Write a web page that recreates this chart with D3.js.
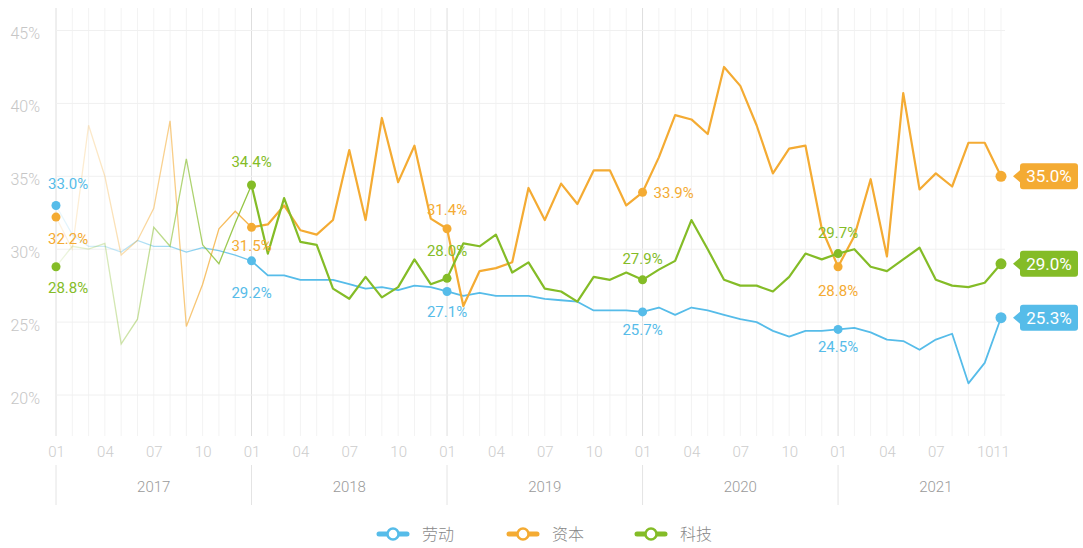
<!DOCTYPE html>
<html>
<head>
<meta charset="utf-8">
<script src="https://cdn.jsdelivr.net/npm/d3@7"></script>
<style>
  body { margin: 0; background: #fff; }
  text { font-family: Roboto, "Noto Sans CJK SC", sans-serif; }
</style>
</head>
<body>
<script>
// Categories
var years = ["2017", "2018", "2019", "2020", "2021"];
var lastYearMonths = 11;
var yTicks = [20, 25, 30, 35, 40, 45];
var seriesNames = ["劳动", "资本", "科技"];

// Monthly share values (%), 2017-01 .. 2021-11
var labor = [
  33.0, 31.0, 30.2, 30.2, 29.8, 30.6, 30.2, 30.2, 29.8, 30.1, 29.9, 29.6,
  29.2, 28.2, 28.2, 27.9, 27.9, 27.9, 27.6, 27.3, 27.4, 27.2, 27.5, 27.4,
  27.1, 26.8, 27.0, 26.8, 26.8, 26.8, 26.6, 26.5, 26.4, 25.8, 25.8, 25.8,
  25.7, 26.0, 25.5, 26.0, 25.8, 25.5, 25.2, 25.0, 24.4, 24.0, 24.4, 24.4,
  24.5, 24.6, 24.3, 23.8, 23.7, 23.1, 23.8, 24.2, 20.8, 22.2, 25.3
];
var capital = [
  32.2, 30.0, 38.5, 35.0, 29.6, 30.6, 32.8, 38.8, 24.7, 27.6, 31.4, 32.6,
  31.5, 31.7, 33.0, 31.3, 31.0, 32.0, 36.8, 32.0, 39.0, 34.6, 37.1, 32.1,
  31.4, 26.1, 28.5, 28.7, 29.1, 34.2, 32.0, 34.5, 33.1, 35.4, 35.4, 33.0,
  33.9, 36.3, 39.2, 38.9, 37.9, 42.5, 41.2, 38.5, 35.2, 36.9, 37.1, 31.4,
  28.8, 30.9, 34.8, 29.5, 40.7, 34.1, 35.2, 34.3, 37.3, 37.3, 35.0
];
var tech = [
  28.8, 30.2, 30.0, 30.4, 23.5, 25.2, 31.5, 30.2, 36.2, 30.3, 29.0, 31.8,
  34.4, 29.7, 33.5, 30.5, 30.3, 27.3, 26.6, 28.1, 26.7, 27.4, 29.3, 27.6,
  28.0, 30.4, 30.2, 31.0, 28.4, 29.1, 27.3, 27.1, 26.4, 28.1, 27.9, 28.4,
  27.9, 28.6, 29.2, 32.0, 30.0, 27.9, 27.5, 27.5, 27.1, 28.1, 29.7, 29.3,
  29.7, 30.0, 28.8, 28.5, 29.3, 30.1, 27.9, 27.5, 27.4, 27.7, 29.0
];

var seriesValues = [labor, capital, tech];
var colors = ["#56bce9", "#f4ab33", "#84bc27"];

// where each January label sits relative to its dot (s = series index)
var labelPlacement = [
  {i: 0,  s: 0, dy: -22}, {i: 0,  s: 1, dy: 22},  {i: 0,  s: 2, dy: 21},
  {i: 12, s: 2, dy: -23}, {i: 12, s: 1, dy: 18},  {i: 12, s: 0, dy: 32},
  {i: 24, s: 1, dy: -19}, {i: 24, s: 2, dy: -28}, {i: 24, s: 0, dy: 20},
  {i: 36, s: 1, dx: 11, dy: 0}, {i: 36, s: 2, dy: -21}, {i: 36, s: 0, dy: 18},
  {i: 48, s: 2, dy: -21}, {i: 48, s: 1, dy: 24},  {i: 48, s: 0, dy: 17}
];

// Build month list
var months = [];
years.forEach(function(yr, k) {
  var n = (k === years.length - 1) ? lastYearMonths : 12;
  for (var m = 1; m <= n; m++) months.push({year: yr, month: m});
});
var last = months.length - 1;

var W = 1083, H = 548;
var svg = d3.select("body").append("svg")
    .attr("width", W)
    .attr("height", H);

var x = d3.scaleLinear().domain([0, last]).range([56, 1001]);
var y = d3.scaleLinear().domain([20, 45]).range([395, 30.5]);

// fade for the 2017 part
var defs = svg.append("defs");
colors.forEach(function(c, k) {
  var grad = defs.append("linearGradient")
      .attr("id", "fade" + k)
      .attr("gradientUnits", "userSpaceOnUse")
      .attr("x1", x(0)).attr("x2", x(12))
      .attr("y1", 0).attr("y2", 0);
  grad.append("stop").attr("offset", 0).attr("stop-color", c).attr("stop-opacity", 0.12);
  grad.append("stop").attr("offset", 1).attr("stop-color", c).attr("stop-opacity", 0.9);
});

// vertical grid
svg.append("g").selectAll("line")
    .data(d3.range(months.length))
  .enter().append("line")
    .attr("x1", function(d) { return x(d); })
    .attr("x2", function(d) { return x(d); })
    .attr("y1", 8)
    .attr("y2", 436)
    .attr("stroke", function(d) { return d % 12 === 0 ? "#dedede" : "#f3f3f3"; })
    .attr("stroke-width", 1);

// horizontal grid
svg.append("g").selectAll("line")
    .data(yTicks)
  .enter().append("line")
    .attr("x1", 56)
    .attr("x2", 1005)
    .attr("y1", function(d) { return y(d); })
    .attr("y2", function(d) { return y(d); })
    .attr("stroke", "#f0f0f0");

// Y axis labels
var yAxisG = svg.append("g")
    .attr("transform", "translate(40,3)")
    .call(d3.axisLeft(y).tickValues(yTicks).tickSize(0).tickPadding(0)
      .tickFormat(function(d) { return d + "%"; }));
yAxisG.select(".domain").remove();
yAxisG.selectAll("text")
    .style("font-size", "16px")
    .style("font-family", "Roboto")
    .style("font-weight", 300)
    .attr("fill", "#c6c6c6");

// month axis
var xAxisG = svg.append("g")
    .attr("transform", "translate(0,443)")
    .call(d3.axisBottom(x).tickValues(d3.range(months.length)).tickSize(0).tickPadding(3)
      .tickFormat(function(i) {
        var m = months[i].month;
        if (m === 1 || m === 4 || m === 7 || m === 10 || i === last) return (m < 10 ? "0" : "") + m;
        return "";
      }));
xAxisG.select(".domain").remove();
xAxisG.selectAll("text")
    .style("font-size", "15px")
    .style("font-family", "Roboto")
    .style("font-weight", 300)
    .attr("fill", "#cdcdcd");

// year band
years.forEach(function(yr, k) {
  svg.append("line")
      .attr("x1", x(12 * k)).attr("x2", x(12 * k))
      .attr("y1", 465).attr("y2", 505)
      .attr("stroke", "#e4e4e4");
  svg.append("text")
      .attr("x", (x(12 * k) + x(12 * k + 12)) / 2)
      .attr("y", 487)
      .attr("dy", "0.35em")
      .attr("text-anchor", "middle")
      .style("font-size", "15px")
      .style("font-weight", 300)
      .attr("fill", "#9a9a9a")
      .text(yr);
});

// lines
var line = d3.line()
    .x(function(d) { return x(d.i); })
    .y(function(d) { return y(d.v); });

seriesValues.forEach(function(vals, k) {
  var pts = vals.map(function(v, i) { return {i: i, v: v}; });
  svg.append("path")
      .datum(pts.slice(0, 13))
      .attr("d", line)
      .attr("fill", "none")
      .attr("stroke", "url(#fade" + k + ")")
      .attr("stroke-width", 1.3);
  svg.append("path")
      .datum(pts.slice(12))
      .attr("d", line)
      .attr("fill", "none")
      .attr("stroke", colors[k])
      .attr("stroke-width", k === 0 ? 1.8 : 2.2)
      .attr("stroke-linejoin", "round");
});

// January dots & labels
labelPlacement.forEach(function(p) {
  var v = seriesValues[p.s][p.i];
  var cx = x(p.i), cy = y(v);
  svg.append("circle")
      .attr("cx", cx).attr("cy", cy).attr("r", 4.5)
      .attr("fill", colors[p.s]);
  var t = svg.append("text")
      .attr("y", cy + p.dy)
      .attr("dy", "0.35em")
      .style("font-size", "15px")
      .attr("fill", colors[p.s])
      .text(v.toFixed(1) + "%");
  if (p.dx) {
    t.attr("x", cx + p.dx).attr("text-anchor", "start");
  } else if (p.i === 0) {
    t.attr("x", 48).attr("text-anchor", "start");
  } else {
    t.attr("x", cx).attr("text-anchor", "middle");
  }
});

// end points with boxes
seriesValues.forEach(function(vals, k) {
  var v = vals[last];
  var cx = x(last), cy = y(v);
  svg.append("circle")
      .attr("cx", cx).attr("cy", cy).attr("r", 5.5)
      .attr("fill", colors[k]);
  var bx = 1020, bw = 58, bh = 26;
  svg.append("path")
      .attr("d", "M" + (bx - 7) + "," + cy +
                 " L" + bx + "," + (cy - 6) +
                 " L" + bx + "," + (cy - bh / 2 + 3) +
                 " Q" + bx + "," + (cy - bh / 2) + " " + (bx + 3) + "," + (cy - bh / 2) +
                 " L" + (bx + bw - 3) + "," + (cy - bh / 2) +
                 " Q" + (bx + bw) + "," + (cy - bh / 2) + " " + (bx + bw) + "," + (cy - bh / 2 + 3) +
                 " L" + (bx + bw) + "," + (cy + bh / 2 - 3) +
                 " Q" + (bx + bw) + "," + (cy + bh / 2) + " " + (bx + bw - 3) + "," + (cy + bh / 2) +
                 " L" + (bx + 3) + "," + (cy + bh / 2) +
                 " Q" + bx + "," + (cy + bh / 2) + " " + bx + "," + (cy + bh / 2 - 3) +
                 " L" + bx + "," + (cy + 6) + " Z")
      .attr("fill", colors[k]);
  svg.append("text")
      .attr("x", bx + bw / 2)
      .attr("y", cy)
      .attr("dy", "0.36em")
      .attr("text-anchor", "middle")
      .style("font-size", "17px")
      .attr("fill", "#fff")
      .text(v.toFixed(1) + "%");
});

// legend
var legendX = [393, 523, 651];
seriesNames.forEach(function(name, k) {
  var g = svg.append("g").attr("transform", "translate(" + legendX[k] + ",534)");
  g.append("line")
      .attr("x1", -14).attr("x2", 14)
      .attr("stroke", colors[k])
      .attr("stroke-width", 5)
      .attr("stroke-linecap", "round");
  g.append("circle")
      .attr("r", 5.5)
      .attr("fill", "#fff")
      .attr("stroke", colors[k])
      .attr("stroke-width", 2.5);
  g.append("text")
      .attr("x", 29)
      .attr("dy", "0.36em")
      .style("font-size", "16px")
      .style("font-family", "'Noto Sans CJK SC'")
      .style("font-weight", 300)
      .attr("fill", "#888")
      .text(name);
});
</script>
</body>
</html>
